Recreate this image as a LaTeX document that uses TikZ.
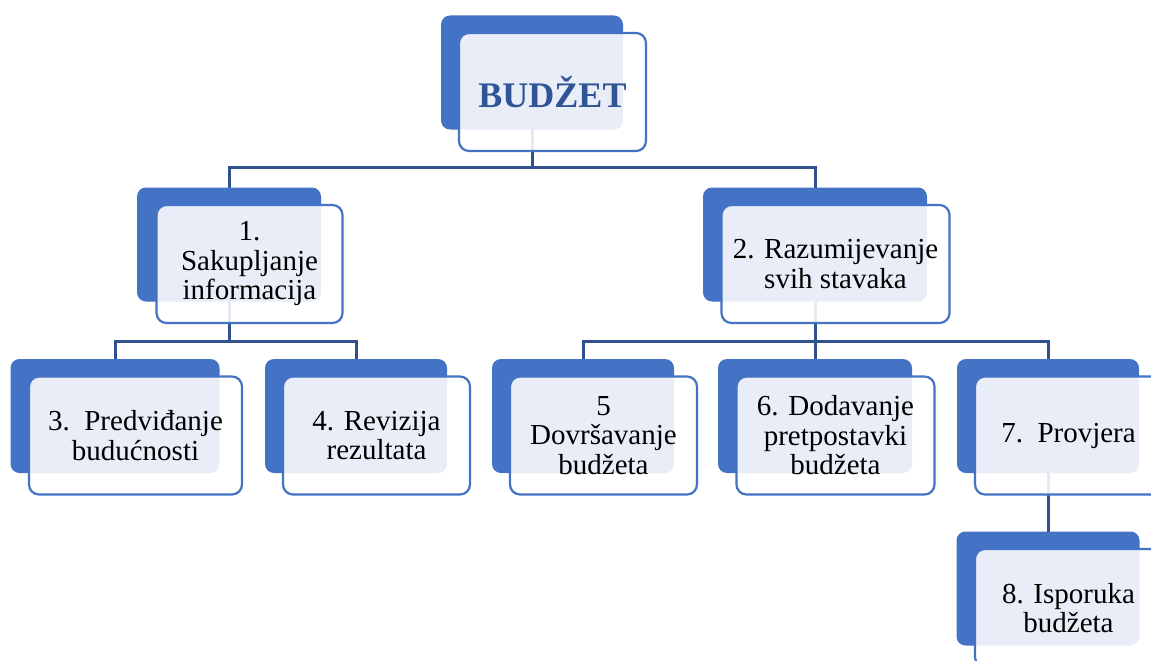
\documentclass[tikz,border=0pt]{standalone}
\usepackage{fontspec}
\setmainfont{Liberation Serif}
\usetikzlibrary{backgrounds}

\definecolor{accent}{HTML}{4472C4}
\definecolor{linkblue}{HTML}{2F528F}
\definecolor{titleblue}{HTML}{2F5597}

\begin{document}
\begin{tikzpicture}[x = 1pt, y = -1pt]
	\tikzstyle{backStyle} = [shape = rectangle, rounded corners = 9pt, fill = accent, minimum height = 114pt, inner sep = 0pt]
	\tikzstyle{frontStyle} = [shape = rectangle, rounded corners = 10pt, draw = accent, line width = 2.2pt, fill = white, fill opacity = 0.88, text opacity = 1, minimum height = 118pt, inner sep = 0pt, align = center, font = \fontsize{29}{29.5}\selectfont]
	\tikzstyle{linkStyle} = [draw = linkblue, line width = 3pt]
	\useasboundingbox (0, 0) rectangle (1151, 661);
	\coordinate (busTop) at (0, 167);
	\coordinate (busMid) at (0, 341);
	% top
	\node[backStyle, minimum width = 182pt] (budb) at (532, 72.5) {};
	\node[frontStyle, minimum width = 187pt, xshift = 20.5pt, yshift = -19.5pt, text = titleblue, font = \fontsize{36}{40}\selectfont\bfseries] (bud) at (budb.center) {BUDŽET};
	% second row
	\node[backStyle, minimum width = 184pt] (s1b) at (229, 244.5) {};
	\node[frontStyle, minimum width = 186pt, xshift = 20.5pt, yshift = -19.5pt] (s1) at (s1b.center) {1.\\Sakupljanje\\informacija};
	\node[backStyle, minimum width = 224pt] (s2b) at (815, 244.5) {};
	\node[frontStyle, minimum width = 228pt, xshift = 20.5pt, yshift = -19.5pt] (s2) at (s2b.center) {2. Razumijevanje\\svih stavaka};
	% third row
	\node[backStyle, minimum width = 209pt] (s3b) at (115, 416) {};
	\node[frontStyle, minimum width = 213pt, xshift = 20.5pt, yshift = -19.5pt] (s3) at (s3b.center) {3.~~Predviđanje\\budućnosti};
	\node[backStyle, minimum width = 182pt] (s4b) at (356, 416) {};
	\node[frontStyle, minimum width = 187pt, xshift = 20.5pt, yshift = -19.5pt] (s4) at (s4b.center) {4. Revizija\\rezultata};
	\node[backStyle, minimum width = 182pt] (s5b) at (583, 416) {};
	\node[frontStyle, minimum width = 187pt, xshift = 20.5pt, yshift = -19.5pt] (s5) at (s5b.center) {5\\Dovršavanje\\budžeta};
	\node[backStyle, minimum width = 194pt] (s6b) at (815, 416) {};
	\node[frontStyle, minimum width = 198pt, xshift = 20.5pt, yshift = -19.5pt] (s6) at (s6b.center) {6. Dodavanje\\pretpostavki\\budžeta};
	\node[backStyle, minimum width = 182pt] (s7b) at (1048, 416) {};
	\node[frontStyle, minimum width = 187pt, xshift = 20.5pt, yshift = -19.5pt] (s7) at (s7b.center) {7.~~Provjera};
	% last
	\node[backStyle, minimum width = 183pt] (s8b) at (1048, 588.5) {};
	\node[frontStyle, minimum width = 187pt, xshift = 20.5pt, yshift = -19.5pt] (s8) at (s8b.center) {8. Isporuka\\budžeta};
	% connectors
	\begin{pgfonlayer}{background}
		\draw[linkStyle] (budb.center) -- (budb.center |- busTop);
		\draw[linkStyle] (s1b.center) |- (budb.center |- busTop) -| (s2b.center);
		\draw[linkStyle] (s1b.center) -- (s1b.center |- busMid);
		\draw[linkStyle] (s3b.center) |- (s1b.center |- busMid) -| (s4b.center);
		\draw[linkStyle] (s2b.center) -- (s6b.center);
		\draw[linkStyle] (s5b.center) |- (s2b.center |- busMid) -| (s7b.center);
		\draw[linkStyle] (s7b.center) -- (s8b.center);
	\end{pgfonlayer}
\end{tikzpicture}
\end{document}
